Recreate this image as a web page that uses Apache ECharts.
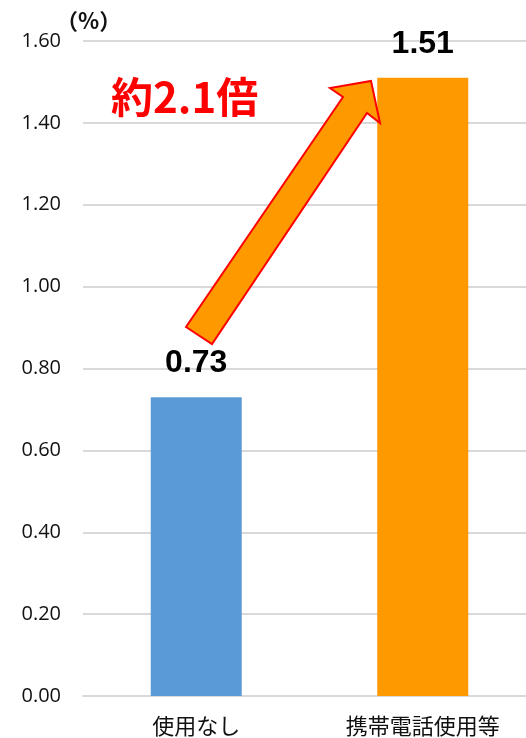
<!DOCTYPE html>
<html><head><meta charset="utf-8">
<script src="https://cdn.jsdelivr.net/npm/echarts@6/dist/echarts.min.js"></script>
<style>html,body{margin:0;padding:0;background:#fff;overflow:hidden}#c{width:540px;height:738px}</style>
</head><body><div id="c"></div>
<script>
const categories = ['使用なし', '携帯電話使用等'];
const values = [0.73, 1.51];
const barColors = ['#5B9BD5', '#FF9900'];
const yTicks = { min: 0, max: 1.6, interval: 0.2 };
const unitLabel = '（%）';
const ratioText = '約2.1倍';

const chart = echarts.init(document.getElementById('c'), null, {renderer: 'canvas'});
const font = '"Liberation Sans", Arial, "Noto Sans CJK JP", sans-serif';
chart.setOption({
  animation: false,
  grid: { left: 83, right: 4, top: 41, bottom: 42 },
  xAxis: {
    type: 'category', data: categories,
    axisLine: { show: true, lineStyle: { color: '#d9d9d9', width: 2 } },
    axisTick: { show: false },
    axisLabel: { color: '#111', fontSize: 22, margin: 19, fontFamily: '"Noto Sans CJK JP", sans-serif' }
  },
  yAxis: {
    type: 'value', min: yTicks.min, max: yTicks.max, interval: yTicks.interval,
    axisLine: { show: false }, axisTick: { show: false },
    splitLine: { lineStyle: { color: '#d9d9d9', width: 2 } },
    axisLabel: { color: '#111', fontSize: 20, margin: 22, fontFamily: '"Open Sans", sans-serif',
      formatter: v => v.toFixed(2) }
  },
  series: [{
    type: 'bar', barWidth: 91,
    data: values.map((v, i) => ({ value: v, itemStyle: { color: barColors[i] } })),
    label: { show: true, position: 'top', distance: 18, color: '#000', fontWeight: 'bold',
      fontSize: 32, fontFamily: font, formatter: p => p.value.toFixed(2) }
  }],
  graphic: [
    { type: 'text', left: 56, top: 10, style: { text: unitLabel, fill: '#111', font: 'bold 22px "Noto Sans CJK JP", sans-serif' } },
    { type: 'polygon', shape: { points: [[186,327],[212,344],[367,113],[380,123],[371,81],[330,88],[343,97]] },
      style: { fill: '#FF9900', stroke: '#FF0000', lineWidth: 2 }, z: 10 },
    { type: 'text', left: 111, top: 76, style: { text: ratioText, fill: '#FF0000', font: 'bold 42px "Noto Sans CJK JP", sans-serif' }, z: 10 }
  ]
});
</script></body></html>
